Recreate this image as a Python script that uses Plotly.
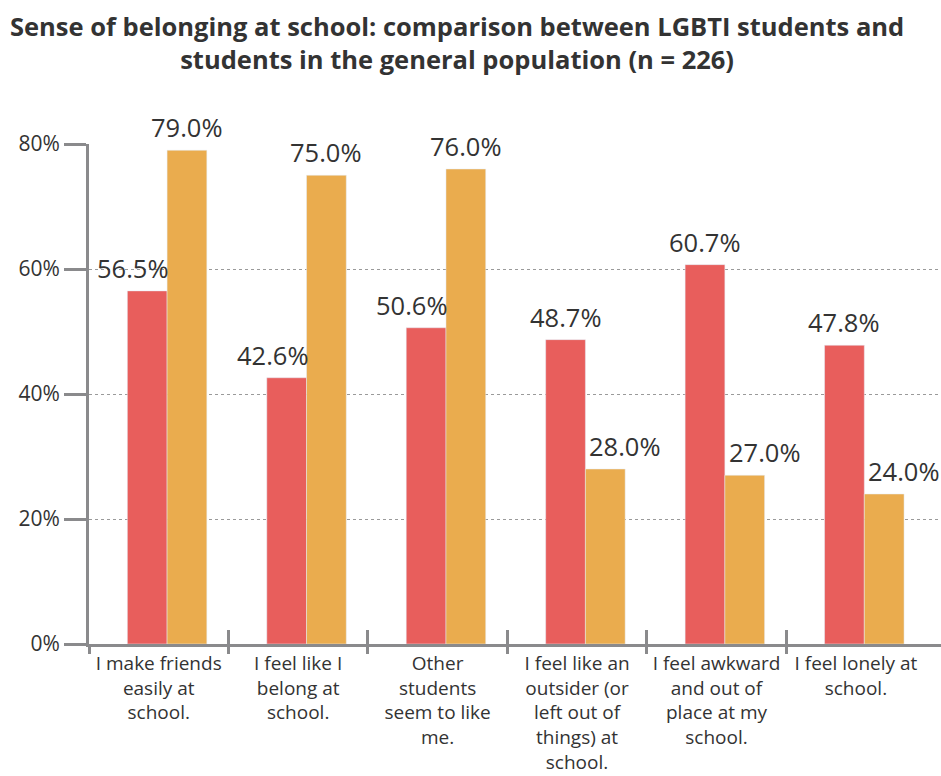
import plotly.graph_objects as go

categories = [
    "I make friends<br>easily at<br>school.",
    "I feel like I<br>belong at<br>school.",
    "Other<br>students<br>seem to like<br>me.",
    "I feel like an<br>outsider (or<br>left out of<br>things) at<br>school.",
    "I feel awkward<br>and out of<br>place at my<br>school.",
    "I feel lonely at<br>school.",
]
lgbti = [56.5, 42.6, 50.6, 48.7, 60.7, 47.8]
general = [79.0, 75.0, 76.0, 28.0, 27.0, 24.0]
y_ticks = [0, 20, 40, 60, 80]
title_text = ("<b>Sense of belonging at school: comparison between LGBTI students and<br>"
              "students in the general population (n = 226)</b>")

RED = "#E85E5C"
ORANGE = "#EAAC4E"
GRAY = "#8a8a8c"
TXT = "#333333"
FONT = "Open Sans"

n = len(categories)
xs = list(range(n))
bargap = 0.43
bw = (1 - bargap) / 2
shift = 0.56  # boundary offset of category ticks relative to bar group centre
xr = [-shift, n - 0.45]
boundaries = [i - shift for i in range(n)]
label_pos = [i - shift + 0.5 for i in range(n)]

fig = go.Figure()
fig.add_trace(go.Bar(x=xs, y=lgbti, marker_color=RED, name="LGBTI students", cliponaxis=False))
fig.add_trace(go.Bar(x=xs, y=general, marker_color=ORANGE, name="General population", cliponaxis=False))
fig.add_trace(go.Scatter(x=[], y=[], xaxis="x2", showlegend=False))
fig.add_trace(go.Scatter(x=[], y=[], xaxis="x3", showlegend=False))

annotations = []
for i in range(n):
    r, o = lgbti[i], general[i]
    rx = -14 if o > r else 0
    ox = 20 if r > o else 0
    annotations.append(dict(x=i - bw / 2, y=r, xref="x", yref="y", text=f"{r:.1f}%",
                            showarrow=False, yanchor="bottom", yshift=4, xshift=rx,
                            font=dict(size=25.5, color=TXT, family=FONT)))
    annotations.append(dict(x=i + bw / 2, y=o, xref="x", yref="y", text=f"{o:.1f}%",
                            showarrow=False, yanchor="bottom", yshift=4, xshift=ox,
                            font=dict(size=25.5, color=TXT, family=FONT)))

annotations.append(dict(
    text=title_text, xref="paper", yref="paper",
    x=(457 - 89) / 852, y=1 + (144 - 42) / 500,
    xanchor="center", yanchor="middle", showarrow=False,
    font=dict(size=25.5, color=TXT, family=FONT),
))

fig.update_layout(
    width=941, height=776,
    margin=dict(l=89, r=0, t=144, b=132),
    paper_bgcolor="white", plot_bgcolor="white",
    barmode="group", bargap=bargap, bargroupgap=0,
    showlegend=False,
    font=dict(family=FONT, color=TXT),
    xaxis=dict(
        range=xr, tickmode="array", tickvals=label_pos, ticktext=categories,
        ticks="", showgrid=False, zeroline=False, automargin=False,
        showline=True, linecolor=GRAY, linewidth=3,
        tickfont=dict(size=19, color=TXT, family=FONT),
        tickangle=0,
    ),
    xaxis2=dict(
        overlaying="x", anchor="y", side="bottom", range=xr, automargin=False,
        tickmode="array", tickvals=boundaries, showticklabels=False,
        ticks="outside", ticklen=9, tickwidth=3, tickcolor=GRAY,
        showgrid=False, zeroline=False, showline=False,
    ),
    xaxis3=dict(
        overlaying="x", anchor="y", side="bottom", range=xr, automargin=False,
        tickmode="array", tickvals=boundaries, showticklabels=False,
        ticks="inside", ticklen=14, tickwidth=3, tickcolor=GRAY,
        showgrid=False, zeroline=False, showline=False,
    ),
    yaxis=dict(
        range=[0, 80], tickmode="array", tickvals=y_ticks,
        ticktext=[f"{v}%" for v in y_ticks], automargin=False,
        ticks="outside", ticklen=22, tickwidth=3, tickcolor=GRAY,
        showline=True, linecolor=GRAY, linewidth=3,
        showgrid=True, gridcolor="#9a9a9a", gridwidth=1, griddash="dot",
        zeroline=False,
        tickfont=dict(size=21, color=TXT, family=FONT),
    ),
    annotations=annotations,
)

fig.write_html("out.html")
